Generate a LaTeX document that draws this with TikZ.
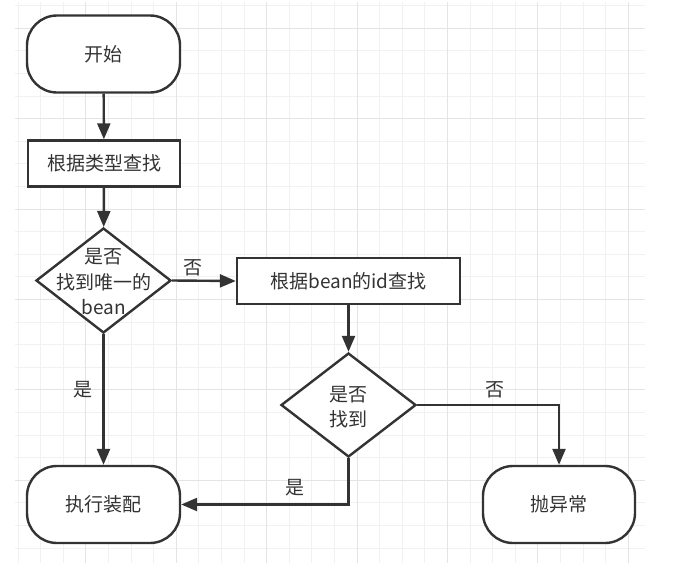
\documentclass[tikz,border=0pt]{standalone}
\usepackage{fontspec}
\setmainfont{Noto Sans CJK SC}
\usetikzlibrary{arrows.meta,shapes.geometric}
\definecolor{ink}{HTML}{333333}
\definecolor{gminor}{HTML}{F1F1F1}
\definecolor{gmajor}{HTML}{E4E4E4}
\begin{document}
\begin{tikzpicture}[x=1pt,y=-1pt,
  every node/.style={text=ink,font=\fontsize{19}{25.5}\selectfont},
  term/.style={draw=ink,line width=2.4pt,fill=white,rounded corners=30pt,minimum width=153pt,minimum height=77pt,inner sep=0pt},
  procbox/.style={draw=ink,line width=2.4pt,fill=white,minimum height=46pt,inner sep=0pt},
  dia/.style={draw=ink,line width=2.4pt,fill=white,diamond,inner sep=0pt,minimum width=135pt,minimum height=105pt},
  conn/.style={draw=ink,line width=2.4pt,-{Triangle[length=16pt,width=13pt]}},
  lbl/.style={inner sep=0pt}]
\useasboundingbox (0,0) rectangle (674,568);
\fill[white] (0,0) rectangle (674,568);
% grid
\foreach \k in {0,...,24}{
  \draw[gminor,line width=1pt] (15,{5.7+22.6*\k}) -- (645,{5.7+22.6*\k});
}
\foreach \k in {0,...,27}{
  \draw[gminor,line width=1pt] ({18+22.6*\k},2) -- ({18+22.6*\k},563);
}
\foreach \j in {0,...,5}{
  \draw[gmajor,line width=1pt] (15,{28.3+90.4*\j}) -- (645,{28.3+90.4*\j});
}
\foreach \j in {0,...,6}{
  \draw[gmajor,line width=1pt] ({85.8+90.4*\j},2) -- ({85.8+90.4*\j},563);
}
% nodes
\node[term] (start) at (103.5,54) {开始};
\node[procbox,minimum width=152pt] (s1) at (104,163.5) {根据类型查找};
\node[dia] (d1) at (103.5,280.5) {};
\node[lbl,align=center] (d1t) at (103.5,282) {是否\\找到唯一的\\bean};
\node[procbox,minimum width=223pt] (s2) at (348.5,281) {根据bean的id查找};
\node[dia,minimum height=104pt] (d2) at (348.5,405) {};
\node[lbl,align=center] (d2t) at (348.5,407) {是否\\找到};
\node[term,minimum width=152pt] (exc) at (559,504.5) {抛异常};
\node[term] (exec) at (103.5,504.5) {执行装配};
% connectors
\draw[conn] (start) -- (s1);
\draw[conn] (s1) -- (d1);
\draw[conn] (d1.east) -- (s2.west);
\draw[conn] (s2) -- (d2);
\draw[conn] (d2.east) -| (exc.north);
\draw[conn] (d2.south) |- (exec.east);
\draw[conn] (d1.south) -- (exec.north);
% labels
\node[lbl] (l1) at (192.5,268) {否};
\node[lbl] (l2) at (495,389.5) {否};
\node[lbl] (l3) at (295,487.5) {是};
\node[lbl] (l4) at (82.5,390) {是};
\end{tikzpicture}
\end{document}
